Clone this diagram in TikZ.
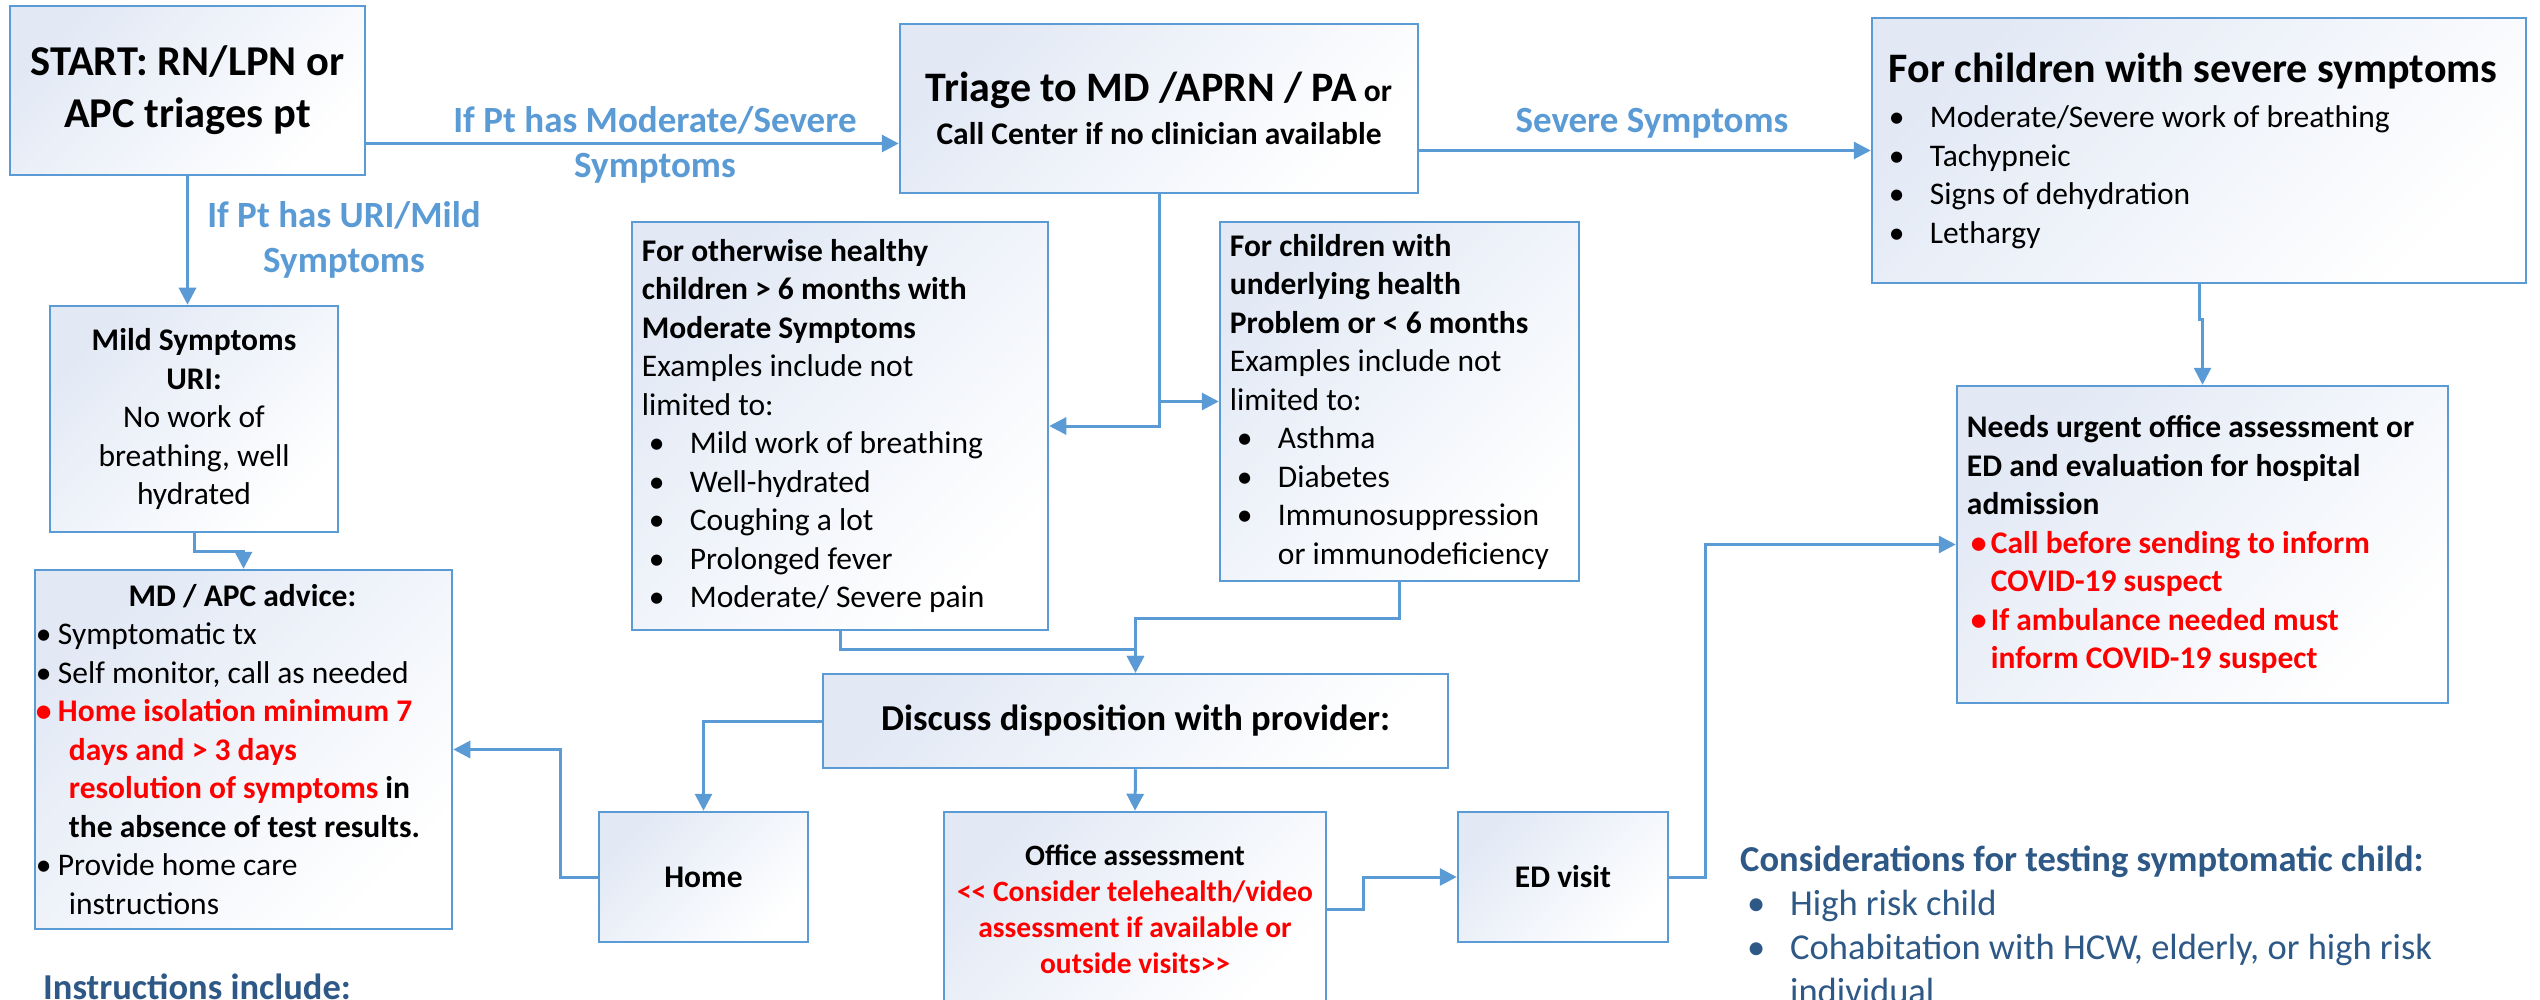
\documentclass[tikz,border=0pt]{standalone}
\usepackage{fontspec}
\setmainfont{Carlito}
\usetikzlibrary{arrows.meta}
\usetikzlibrary{positioning}

\definecolor{flowblue}{HTML}{5B9BD5}
\definecolor{boxfill}{HTML}{E2E9F5}
\definecolor{alertred}{HTML}{FF0000}
\definecolor{notenavy}{HTML}{2E5987}

\newcommand{\itembul}[1]{\makebox[#1][l]{\textbullet}}

\begin{document}
\begin{tikzpicture}[x=1pt,y=-1pt,>={Triangle[length=17pt,width=17pt]},
  conn/.style={->,draw=flowblue,line width=3pt},
  box/.style={rectangle,draw=flowblue,line width=2.5pt,inner sep=0pt,
    top color=boxfill,bottom color=white,shading angle=45},
  body/.style={font=\fontsize{31.5}{38.5}\selectfont,align=left,inner sep=0pt},
  lbl/.style={font=\fontsize{37}{45}\selectfont\bfseries,text=flowblue,align=center},
  note/.style={font=\fontsize{36.5}{44}\selectfont,text=notenavy,align=left,inner sep=0pt}]

  \clip (0,0) rectangle (2540,1000);
  \useasboundingbox (0,0) rectangle (2540,1000);

  % top row
  \node[box,minimum width=355pt,minimum height=169pt,align=center,
    font=\fontsize{42.5}{52}\selectfont\bfseries] (start) at (187.5,90.5)
    {START: RN/LPN or\\APC triages pt};
  \node[box,minimum width=518pt,minimum height=169pt,align=center,
    font=\fontsize{31.5}{43}\selectfont\bfseries] (tri) at (1159,108.5)
    {{\fontsize{42}{43}\selectfont Triage to MD /APRN / PA} or\\Call Center if no clinician available};
  \node[box,minimum width=654pt,minimum height=265pt] (sev) at (2199,150.5) {};
  \node[body,anchor=west] (sevtext) at ([xshift=18pt]sev.west)
    {{\fontsize{42}{42}\selectfont\bfseries For children with severe symptoms}\\[7pt]
     \itembul{41pt}Moderate/Severe work of breathing\\
     \itembul{41pt}Tachypneic\\
     \itembul{41pt}Signs of dehydration\\
     \itembul{41pt}Lethargy};

  % middle row
  \node[box,minimum width=288pt,minimum height=226pt,align=center,
    font=\fontsize{31.5}{38.5}\selectfont] (mild) at (194,419)
    {\textbf{Mild Symptoms}\\\textbf{URI:}\\No work of\\breathing, well\\hydrated};
  \node[box,minimum width=416pt,minimum height=408pt] (healthy) at (840,426) {};
  \node[body,anchor=west] (healthytext) at ([xshift=11pt]healthy.west)
    {\textbf{For otherwise healthy}\\
     \textbf{children > 6 months with}\\
     \textbf{Moderate Symptoms}\\
     Examples include not\\
     limited to:\\
     \hspace*{7pt}\itembul{41pt}Mild work of breathing\\
     \hspace*{7pt}\itembul{41pt}Well-hydrated\\
     \hspace*{7pt}\itembul{41pt}Coughing a lot\\
     \hspace*{7pt}\itembul{41pt}Prolonged fever\\
     \hspace*{7pt}\itembul{41pt}Moderate/ Severe pain};
  \node[box,minimum width=359pt,minimum height=359pt] (under) at (1399.5,401.5) {};
  \node[body,anchor=west] (undertext) at ([xshift=11pt]under.west)
    {\textbf{For children with}\\
     \textbf{underlying health}\\
     \textbf{Problem or < 6 months}\\
     Examples include not\\
     limited to:\\
     \hspace*{7pt}\itembul{41pt}Asthma\\
     \hspace*{7pt}\itembul{41pt}Diabetes\\
     \hspace*{7pt}\itembul{41pt}Immunosuppression\\
     \hspace*{48pt}or immunodeficiency};
  \node[box,minimum width=491pt,minimum height=317pt] (needs) at (2202.5,544.5) {};
  \node[body,anchor=west,font=\fontsize{31.5}{38.5}\selectfont\bfseries] (needstext)
    at ([xshift=11pt]needs.west)
    {Needs urgent office assessment or\\
     ED and evaluation for hospital\\
     admission\\
     \textcolor{alertred}{\hspace*{4pt}\itembul{20pt}Call before sending to inform}\\
     \textcolor{alertred}{\hspace*{24pt}COVID-19 suspect}\\
     \textcolor{alertred}{\hspace*{4pt}\itembul{20pt}If ambulance needed must}\\
     \textcolor{alertred}{\hspace*{24pt}inform COVID-19 suspect}};

  % lower part
  \node[box,minimum width=417pt,minimum height=359pt] (md) at (243.5,749.5) {};
  \node[body,anchor=west] (mdtext) at ([xshift=2pt]md.west)
    {\makebox[413pt]{\bfseries MD / APC advice:}\\
     \itembul{22pt}Symptomatic tx\\
     \itembul{22pt}Self monitor, call as needed\\
     \textcolor{alertred}{\bfseries\itembul{22pt}Home isolation minimum 7}\\
     \hspace*{33pt}\textcolor{alertred}{\bfseries days and > 3 days}\\
     \hspace*{33pt}\textbf{\textcolor{alertred}{resolution of symptoms} in}\\
     \hspace*{33pt}\textbf{the absence of test results.}\\
     \itembul{22pt}Provide home care\\
     \hspace*{33pt}instructions};
  \node[box,minimum width=625pt,minimum height=94pt,
    font=\fontsize{36.5}{44}\selectfont\bfseries] (disc) at (1135.5,721)
    {Discuss disposition with provider:};
  \node[box,minimum width=209pt,minimum height=130pt,
    font=\fontsize{31.5}{38.5}\selectfont\bfseries] (home) at (703.5,877) {Home};
  \node[box,minimum width=382pt,minimum height=195pt,align=center,
    font=\fontsize{29.5}{36}\selectfont\bfseries] (office) at (1135,909.5)
    {Office assessment\\
     \textcolor{alertred}{<\kern0pt< Consider telehealth/video}\\
     \textcolor{alertred}{assessment if available or}\\
     \textcolor{alertred}{outside visits>\kern0pt>}};
  \node[box,minimum width=210pt,minimum height=130pt,
    font=\fontsize{31.5}{38.5}\selectfont\bfseries] (ed) at (1563,877) {ED visit};

  % free text
  \node[lbl] (modlbl) at (655,145) {If Pt has Moderate/Severe\\Symptoms};
  \node[lbl] (urilbl) at (344,240) {If Pt has URI/Mild\\Symptoms};
  \node[lbl] (sevlbl) at (1652,123) {Severe Symptoms};
  \node[note,anchor=west] (testnote) at (1740,925)
    {\textbf{Considerations for testing symptomatic child:}\\
     \hspace*{7pt}\itembul{43pt}High risk child\\
     \hspace*{7pt}\itembul{43pt}Cohabitation with HCW, elderly, or high risk\\
     \hspace*{50pt}individual};
  \node[note,anchor=west,font=\fontsize{36.5}{44}\selectfont\bfseries] (instr) at (43,987)
    {Instructions include:};

  % connectors
  \draw[conn] ([yshift=-53pt]start.east) -- ([yshift=-35pt]tri.west);
  \draw[conn] (start.south) -- (start.south |- mild.north);
  \draw[conn] (mild.south) -- ++(0,18) -| (md.north);
  \draw[conn] (tri.east |- sev.west) -- (sev.west);
  \draw[conn] (sev.south) -- ++(0,35) -| (needs.north);
  \draw[conn] (tri.south) |- (healthy.east);
  \draw[conn] (tri.south) |- (under.west);
  \draw[conn] (healthy.south) -- ++(0,18) -| (disc.north);
  \draw[conn] (under.south) -- ++(0,36) -| (disc.north);
  \draw[conn] (disc.west) -| (home.north);
  \draw[conn] (disc.south) -- (office.north);
  \draw[conn] (home.west) -- ++(-37,0) |- (md.east);
  \draw[conn] (office.east) -- ++(36,0) |- (ed.west);
  \draw[conn] (ed.east) -- ++(36,0) |- (needs.west);
\end{tikzpicture}
\end{document}
